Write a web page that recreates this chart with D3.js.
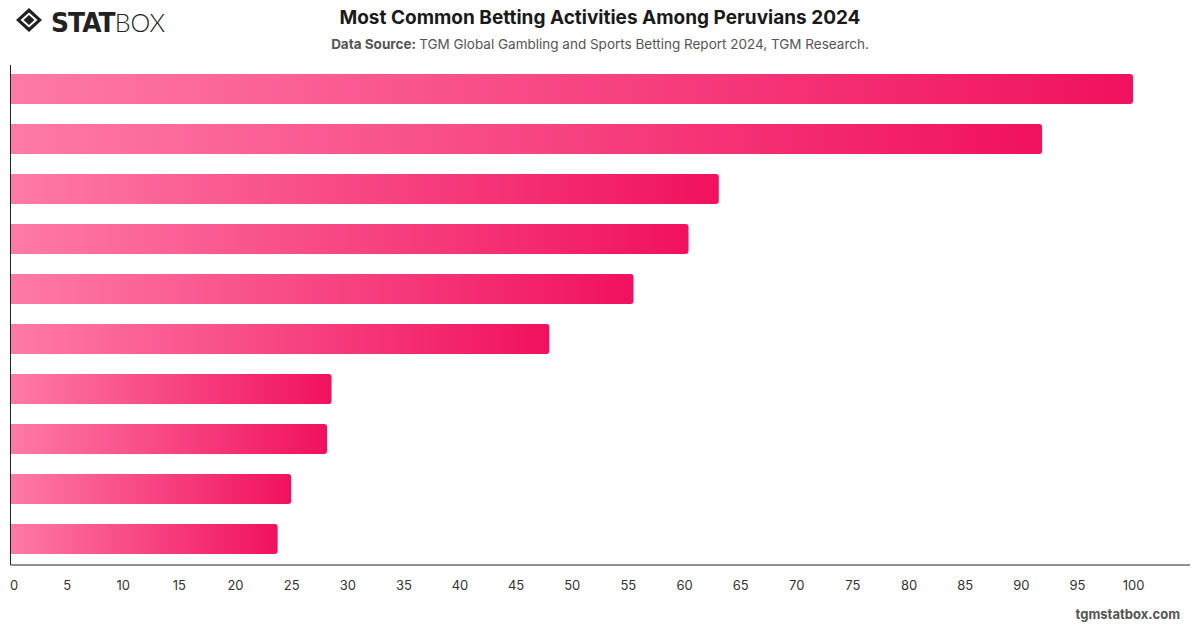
<!DOCTYPE html>
<html lang="en">
<head>
<meta charset="utf-8">
<title>Most Common Betting Activities Among Peruvians 2024</title>
<script src="https://cdn.jsdelivr.net/npm/d3@7"></script>
<style>
  body { margin: 0; background: #fff; font-family: Inter, "Open Sans", sans-serif; }
  .title { font-size: 19px; font-weight: 700; fill: #1a1a1a; }
  .subtitle { font-size: 13.5px; fill: #555; }
  .axis text { font-size: 13px; fill: #333; font-family: Inter, sans-serif; }
  .axis path { stroke: #222; }
  .footer { font-size: 13px; font-weight: 700; fill: #555; }
</style>
</head>
<body>
<script>
// data (categories are hidden in the original chart)
var categories = ["Sports betting", "Lottery", "Casino games", "Slot machines", "Scratch cards",
                  "Bingo", "Poker", "Horse racing", "eSports betting", "Fantasy sports"];
var values = [100, 91.9, 63.1, 60.4, 55.5, 48.0, 28.6, 28.2, 25.0, 23.8];
var xTicks = [0, 5, 10, 15, 20, 25, 30, 35, 40, 45, 50, 55, 60, 65, 70, 75, 80, 85, 90, 95, 100];

var w = 1200, h = 628;
var plotLeft = 10.5, plotRight = 1190, plotTop = 64, plotBottom = 565;

var svg = d3.select("body").append("svg")
  .attr("width", w)
  .attr("height", h);

var defs = svg.append("defs");
var grad = defs.append("linearGradient")
  .attr("id", "barGrad")
  .attr("x1", "0%").attr("x2", "100%")
  .attr("y1", "0%").attr("y2", "0%");
grad.append("stop").attr("offset", "0%").attr("stop-color", "#fe7aa7");
grad.append("stop").attr("offset", "100%").attr("stop-color", "#f1115e");

// scales
var xScale = d3.scaleLinear().domain([0, 100]).range([plotLeft, 1133]);
var yScale = d3.scaleBand().domain(categories).range([plotTop, plotBottom - 1])
  .paddingInner(0.4).paddingOuter(0.2);

// bars, rounded on the right end
function barPath(x0, x1, y0, hgt, r) {
  return "M" + x0 + "," + y0 +
    "H" + (x1 - r) +
    "Q" + x1 + "," + y0 + " " + x1 + "," + (y0 + r) +
    "V" + (y0 + hgt - r) +
    "Q" + x1 + "," + (y0 + hgt) + " " + (x1 - r) + "," + (y0 + hgt) +
    "H" + x0 + "Z";
}

svg.selectAll(".bar")
  .data(values)
  .enter()
  .append("path")
  .attr("class", "bar")
  .attr("fill", "url(#barGrad)")
  .attr("d", function(d, i) {
    return barPath(xScale(0), xScale(d), yScale(categories[i]), yScale.bandwidth(), 3);
  });

// axes
var xAxis = d3.axisBottom(xScale)
  .tickValues(xTicks)
  .tickSize(0)
  .tickPadding(16);

var gx = svg.append("g")
  .attr("class", "axis")
  .attr("transform", "translate(0," + plotBottom + ")")
  .call(xAxis);
gx.select(".domain").attr("d", "M" + plotLeft + ",0H" + plotRight);
gx.selectAll("text").attr("dx", function(d) { return d === 0 ? "3px" : "0"; });

svg.append("line")
  .attr("x1", plotLeft).attr("x2", plotLeft)
  .attr("y1", plotTop + 1).attr("y2", plotBottom)
  .attr("stroke", "#222");

// title + source
svg.append("text")
  .attr("class", "title")
  .attr("x", 600).attr("y", 24)
  .attr("text-anchor", "middle")
  .text("Most Common Betting Activities Among Peruvians 2024");

var sub = svg.append("text")
  .attr("class", "subtitle")
  .attr("x", 600).attr("y", 49)
  .attr("text-anchor", "middle");
sub.append("tspan").attr("font-weight", 700).text("Data Source: ");
sub.append("tspan").text("TGM Global Gambling and Sports Betting Report 2024, TGM Research.");

// footer
svg.append("text")
  .attr("class", "footer")
  .attr("x", 1180).attr("y", 619)
  .attr("text-anchor", "end")
  .text("tgmstatbox.com");

// logo
var logo = svg.append("g").attr("transform", "translate(16,8)");
logo.append("path")
  .attr("d", "M13,0 L26,12 L13,24 L0,12 Z M13,4.5 L21.5,12 L13,19.5 L4.5,12 Z")
  .attr("fill", "#222")
  .attr("fill-rule", "evenodd");
logo.append("path")
  .attr("d", "M13,7 L18.5,12 L13,17 L7.5,12 Z")
  .attr("fill", "#222");
var lt = logo.append("text")
  .attr("x", 35).attr("y", 23.5)
  .attr("font-family", "'DejaVu Sans', sans-serif")
  .attr("font-size", 26)
  .attr("textLength", 114)
  .attr("lengthAdjust", "spacingAndGlyphs")
  .attr("fill", "#222");
lt.append("tspan").attr("font-weight", 900).attr("letter-spacing", "-1").text("STAT");
lt.append("tspan").attr("font-weight", 300).attr("font-family", "Lato, sans-serif").text("BOX");
</script>
</body>
</html>
